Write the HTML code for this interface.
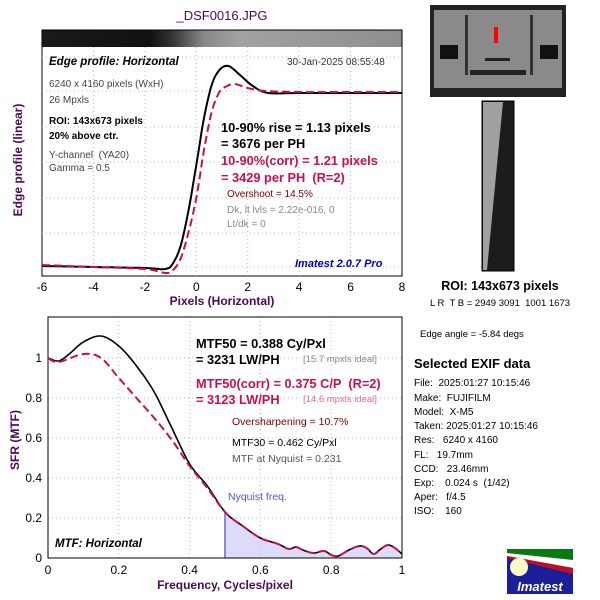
<!DOCTYPE html>
<html><head><style>
body{margin:0;background:#fff;width:600px;height:600px;overflow:hidden;font-family:"Liberation Sans",sans-serif}
svg{position:absolute;left:0;top:0}
text{white-space:pre}
</style></head><body>
<svg id="s" width="600" height="600" xmlns="http://www.w3.org/2000/svg" font-family="Liberation Sans, sans-serif" xml:space="preserve">
<defs>
<linearGradient id="g" x1="0" x2="1">
<stop offset="0" stop-color="#1a1a1a"/><stop offset="0.3" stop-color="#111"/><stop offset="0.36" stop-color="#333"/><stop offset="0.45" stop-color="#888"/><stop offset="0.55" stop-color="#a2a2a2"/><stop offset="1" stop-color="#8e8e8e"/>
</linearGradient>
</defs>
<text x="222" y="20" font-size="13" fill="#4a0a55" text-anchor="middle">_DSF0016.JPG</text>
<rect x="42" y="30" width="360" height="17" fill="url(#g)"/>
<rect x="42" y="30" width="360" height="246" fill="none" stroke="#000"/>
<g id="tg" stroke="#bbb" stroke-dasharray="1,3"></g>
<g font-size="12" text-anchor="middle" fill="#000">
<text x="42" y="291">-6</text><text x="93.4" y="291">-4</text><text x="144.9" y="291">-2</text><text x="196.3" y="291">0</text><text x="247.7" y="291">2</text><text x="299.1" y="291">4</text><text x="350.6" y="291">6</text><text x="402" y="291">8</text>
</g>
<text x="222" y="305" font-size="12" font-weight="bold" fill="#4a0a55" text-anchor="middle">Pixels (Horizontal)</text>
<text transform="translate(22,160) rotate(-90)" font-size="12" font-weight="bold" fill="#4a0a55" text-anchor="middle">Edge profile (linear)</text>
<path id="pb" fill="none" stroke="#000" stroke-width="2"/>
<path id="pr" fill="none" stroke="#c8104f" stroke-width="2" stroke-dasharray="8,4"/>
<g font-size="10.5">
<text x="49" y="65" font-weight="bold" font-style="italic" font-size="11.5">Edge profile: Horizontal</text>
<text x="287" y="65" fill="#333" font-size="10">30-Jan-2025 08:55:48</text>
<text x="49" y="87" fill="#444" font-size="10">6240 x 4160 pixels (WxH)</text>
<text x="49" y="103" fill="#444" font-size="10">26 Mpxls</text>
<text x="49" y="124" font-weight="bold" font-size="10">ROI: 143x673 pixels</text>
<text x="49" y="139" font-weight="bold" font-size="10">20% above ctr.</text>
<text x="49" y="158" fill="#444" font-size="10">Y-channel  (YA20)</text>
<text x="49" y="171" fill="#444" font-size="10">Gamma = 0.5</text>
<text x="221" y="132" font-weight="bold" font-size="12.8">10-90% rise = 1.13 pixels</text>
<text x="221" y="148" font-weight="bold" font-size="12.8">= 3676 per PH</text>
<text x="221" y="165" font-weight="bold" font-size="12.8" fill="#c8104f">10-90%(corr) = 1.21 pixels</text>
<text x="221" y="182" font-weight="bold" font-size="12.8" fill="#c8104f">= 3429 per PH  (R=2)</text>
<text x="227" y="197" fill="#700" font-size="10">Overshoot = 14.5%</text>
<text x="227" y="213" fill="#888" font-size="10">Dk, lt lvls = 2.22e-016, 0</text>
<text x="227" y="227" fill="#888" font-size="10">Lt/dk = 0</text>
<text x="295" y="267" fill="#0000c0" font-weight="bold" font-style="italic" font-size="11">Imatest 2.0.7 Pro</text>
</g>
<path id="fill" fill="#dcdcfa"/>
<line x1="225" y1="512" x2="225" y2="558" stroke="#8888dd" stroke-width="2"/>
<g id="bg" stroke="#bbb" stroke-dasharray="1,3"></g>
<rect x="48" y="317" width="354" height="241" fill="none" stroke="#000"/>
<path id="mb" fill="none" stroke="#000" stroke-width="1.6"/>
<path id="mr" fill="none" stroke="#c8104f" stroke-width="2" stroke-dasharray="8,4"/>
<g font-size="12" fill="#000" text-anchor="end">
<text x="42" y="362">1</text><text x="42" y="402">0.8</text><text x="42" y="442">0.6</text><text x="42" y="482">0.4</text><text x="42" y="522">0.2</text><text x="42" y="562">0</text>
</g>
<g font-size="12" fill="#000" text-anchor="middle">
<text x="48" y="574">0</text><text x="118.8" y="574">0.2</text><text x="189.6" y="574">0.4</text><text x="260.4" y="574">0.6</text><text x="331.2" y="574">0.8</text><text x="402" y="574">1</text>
</g>
<text x="225" y="589" font-size="12" font-weight="bold" fill="#4a0a55" text-anchor="middle">Frequency, Cycles/pixel</text>
<text transform="translate(19,440) rotate(-90)" font-size="12" font-weight="bold" fill="#4a0a55" text-anchor="middle">SFR (MTF)</text>
<g>
<text x="196" y="348" font-weight="bold" font-size="12.8">MTF50 = 0.388 Cy/Pxl</text>
<text x="196" y="364" font-weight="bold" font-size="12.8">= 3231 LW/PH</text>
<text x="303" y="362" fill="#888" font-size="9.5">[15.7 mpxls ideal]</text>
<text x="196" y="388" font-weight="bold" font-size="12.8" fill="#c8104f">MTF50(corr) = 0.375 C/P  (R=2)</text>
<text x="196" y="404" font-weight="bold" font-size="12.8" fill="#c8104f">= 3123 LW/PH</text>
<text x="303" y="402" fill="#e07090" font-size="9.5">[14.6 mpxls ideal]</text>
<text x="232" y="425" fill="#700" font-size="10.5">Oversharpening = 10.7%</text>
<text x="232" y="446" font-size="10.5">MTF30 = 0.462 Cy/Pxl</text>
<text x="232" y="462" fill="#555" font-size="10.5">MTF at Nyquist = 0.231</text>
<text x="228" y="500" fill="#5555cc" font-size="10.5">Nyquist freq.</text>
<text x="55" y="547" font-weight="bold" font-style="italic" font-size="11.5">MTF: Horizontal</text>
</g>
<rect x="430" y="5" width="136" height="92" fill="#222"/>
<rect x="434" y="10" width="128" height="78" fill="#8a8a8a"/>
<rect x="440" y="45" width="18" height="14" fill="#111"/><rect x="540" y="45" width="18" height="14" fill="#111"/>
<rect x="470" y="70" width="56" height="5" fill="#222"/><rect x="485" y="58" width="25" height="3" fill="#222"/>
<rect x="465" y="15" width="3" height="60" fill="#333"/><rect x="530" y="15" width="3" height="60" fill="#333"/>
<rect x="494" y="27" width="4" height="16" fill="#f00"/>
<rect x="482" y="101" width="32" height="170" fill="#1c1c1c" stroke="#000"/>
<polygon points="483,102 503,102 487,270 483,270" fill="#a0a0a0"/>
<text x="500" y="290" font-size="12.5" font-weight="bold" text-anchor="middle">ROI: 143x673 pixels</text>
<text x="500" y="306" font-size="9.5" text-anchor="middle">L R  T B = 2949 3091  1001 1673</text>
<text x="420" y="337" font-size="9.5">Edge angle = -5.84 degs</text>
<text x="414" y="368" font-size="13" font-weight="bold">Selected EXIF data</text>
<g font-size="10">
<text x="414" y="386">File:  2025:01:27 10:15:46</text>
<text x="414" y="401">Make:  FUJIFILM</text>
<text x="414" y="415">Model:  X-M5</text>
<text x="414" y="429">Taken: 2025:01:27 10:15:46</text>
<text x="414" y="443">Res:   6240 x 4160</text>
<text x="414" y="458">FL:   19.7mm</text>
<text x="414" y="472">CCD:   23.46mm</text>
<text x="414" y="486">Exp:    0.024 s  (1/42)</text>
<text x="414" y="500">Aper:   f/4.5</text>
<text x="414" y="514">ISO:    160</text>
</g>
<rect x="507" y="549" width="66" height="45" fill="#1a1f9a"/>
<polygon points="507,549 573,549 573,560 507,553" fill="#0a7a10"/>
<polygon points="507,553 573,560 573,568 507,556" fill="#fff"/>
<polygon points="507,556 573,568 573,574 507,558" fill="#c01020"/>
<circle cx="519" cy="567" r="9" fill="#ffffc8"/>
<text x="540" y="591" font-size="13" font-weight="bold" font-style="italic" fill="#fff" text-anchor="middle">Imatest</text>
</svg>
<script>
function P(pts,fx,fy){return pts.map((p,i)=>(i?'L':'M')+fx(p[0]).toFixed(1)+','+fy(p[1]).toFixed(1)).join('');}
function interp(p,n){var o=[];for(var i=0;i<p.length-1;i++){var p0=p[Math.max(i-1,0)],p1=p[i],p2=p[i+1],p3=p[Math.min(i+2,p.length-1)];for(var k=0;k<n;k++){var t=k/n,t2=t*t,t3=t2*t;var f=j=>0.5*((2*p1[j])+(-p0[j]+p2[j])*t+(2*p0[j]-5*p1[j]+4*p2[j]-p3[j])*t2+(-p0[j]+3*p1[j]-3*p2[j]+p3[j])*t3);o.push([f(0),f(1)]);}}o.push(p[p.length-1]);return o;}
var ex=x=>196.3+x*25.71, ey=y=>y;
var eb=[[-6,266],[-4,267],[-2,268],[-1.2,269],[-0.9,263],[-0.6,245],[-0.3,210],[0,165],[0.3,118],[0.6,85],[0.9,70],[1.25,66],[1.7,75],[2.2,86],[2.8,93],[4,93],[6,93],[8,93]];
var er=[[-6,265],[-4,267],[-2,269],[-1.2,273],[-0.9,270],[-0.6,258],[-0.3,232],[0,198],[0.3,150],[0.6,112],[0.9,92],[1.2,86],[1.5,84],[2,88],[2.7,91],[4,92],[6,92],[8,92]];
document.getElementById('pb').setAttribute('d',P(interp(eb,6),ex,ey));
document.getElementById('pr').setAttribute('d',P(interp(er,6),ex,ey));
var mx=x=>48+x*354, my=y=>558-y*200;
var tail=[[0.5,0.23],[0.55,0.16],[0.6,0.1],[0.65,0.07],[0.68,0.045],[0.7,0.055],[0.72,0.04],[0.75,0.025],[0.78,0.035],[0.8,0.015],[0.82,0.01],[0.85,0.04],[0.88,0.06],[0.9,0.05],[0.92,0.02],[0.94,0.045],[0.96,0.065],[0.98,0.05],[1,0.02]];
var mb=[[0,1],[0.03,0.985],[0.06,1.02],[0.1,1.08],[0.15,1.11],[0.2,1.06],[0.25,0.96],[0.3,0.83],[0.35,0.65],[0.4,0.47],[0.45,0.36]].concat(tail);
var mr=[[0,1],[0.03,0.98],[0.1,1.02],[0.15,1.0],[0.2,0.9],[0.25,0.8],[0.3,0.7],[0.35,0.59],[0.4,0.46],[0.45,0.35]].concat(tail);
var ib=interp(mb,6);
document.getElementById('mb').setAttribute('d',P(ib,mx,my));
document.getElementById('mr').setAttribute('d',P(interp(mr,6),mx,my));
var f=ib.filter(p=>p[0]>=0.5);
document.getElementById('fill').setAttribute('d',P(f,mx,my)+'L402,558L225,558Z');
var NS='http://www.w3.org/2000/svg';
function ln(g,x1,y1,x2,y2){var l=document.createElementNS(NS,'line');l.setAttribute('x1',x1);l.setAttribute('y1',y1);l.setAttribute('x2',x2);l.setAttribute('y2',y2);document.getElementById(g).appendChild(l);}
for(var i=1;i<7;i++){var x=42+i*51.43;ln('tg',x,47,x,276);}
[57,91,127,162,198,233,267].forEach(y=>ln('tg',42,y,402,y));
for(var i=1;i<5;i++){var x=48+i*70.8;ln('bg',x,317,x,558);}
for(var i=1;i<6;i++){var y=558-i*40;ln('bg',48,y,402,y);}
</script>
</body></html>
